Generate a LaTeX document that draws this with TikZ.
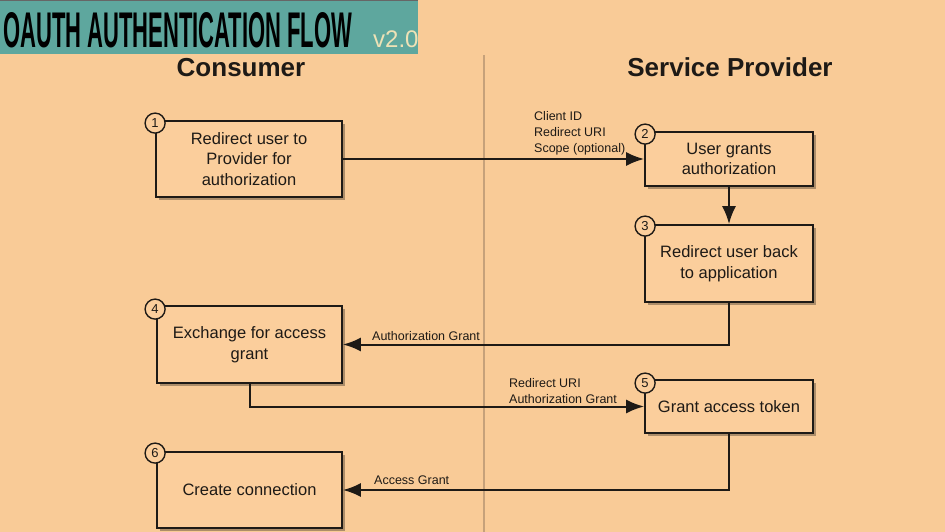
\documentclass[tikz,border=0pt]{standalone}
\usepackage{fontspec}
\setmainfont{Liberation Sans}
\usepackage{graphicx}
\usetikzlibrary{shadows,arrows.meta,calc}
\definecolor{bg}{HTML}{F9CB97}
\definecolor{boxfill}{HTML}{FBCE9C}
\definecolor{bannerteal}{HTML}{5EA79E}
\definecolor{divider}{HTML}{C6A17A}
\definecolor{verscol}{HTML}{EEE2B6}
\definecolor{ink}{HTML}{1E1A16}
\begin{document}
\begin{tikzpicture}[x=1pt,y=-1pt,
  stepbox/.style={draw=ink, line width=1.8pt, fill=boxfill, align=center, inner sep=2pt,
    font=\fontsize{16.5}{20.5}\selectfont, text=ink,
    drop shadow={shadow xshift=2.5pt, shadow yshift=-3pt, opacity=0.3, fill=black}},
  numcirc/.style={circle, draw=ink, line width=1.4pt, fill=boxfill, minimum size=20pt, inner sep=0pt,
    font=\fontsize{13}{13}\selectfont, text=ink},
  arr/.style={draw=ink, line width=2pt, -{Latex[length=18pt,width=14pt]}},
  lbl/.style={font=\fontsize{12.5}{16}\selectfont, text=ink, align=left, inner sep=0pt},
  header/.style={font=\fontsize{26}{30}\selectfont\bfseries, text=ink, inner sep=0pt}]
\useasboundingbox (0,0) rectangle (945,532);
\fill[bg] (0,0) rectangle (945,532);
% banner
\fill[bannerteal] (0,0) rectangle (418,54);
\draw[black!60, line width=1.5pt] (0,0.75) -- (418,0.75);
\node[anchor=north west, inner sep=0pt] (title) at (3,12)
  {\resizebox{349pt}{35pt}{\bfseries OAUTH AUTHENTICATION FLOW}};
\node[anchor=base west, inner sep=0pt, text=verscol, font=\fontsize{24}{24}\selectfont] (version) at (373,48) {v2.0};
% divider
\draw[divider, line width=2pt] (484,55) -- (484,532);
% headers
\node[header, anchor=base] (hcons) at (241,77) {Consumer};
\node[header, anchor=base] (hprov) at (730,77) {Service Provider};
% boxes
\node[stepbox, minimum width=186pt, minimum height=76pt] (b1) at (249,159) {Redirect user to\\Provider for\\authorization};
\node[stepbox, minimum width=168pt, minimum height=54pt] (b2) at (729,159) {User grants\\authorization};
\node[stepbox, minimum width=168pt, minimum height=77pt] (b3) at (729,263.5) {Redirect user back\\to application};
\node[stepbox, minimum width=185pt, minimum height=77pt] (b4) at (249.5,344.5) {Exchange for access\\grant};
\node[stepbox, minimum width=168pt, minimum height=53pt] (b5) at (729,406.5) {Grant access token};
\node[stepbox, minimum width=185pt, minimum height=76pt] (b6) at (249.5,490) {Create connection};
% number circles
\node[numcirc] (n1) at ($(b1.north west)+(0,3)$) {1};
\node[numcirc] (n2) at ($(b2.north west)+(1,3)$) {2};
\node[numcirc] (n3) at ($(b3.north west)+(1,2)$) {3};
\node[numcirc] (n4) at ($(b4.north west)+(-1,4)$) {4};
\node[numcirc] (n5) at ($(b5.north west)+(1,4)$) {5};
\node[numcirc] (n6) at ($(b6.north west)+(-1,2)$) {6};
% connectors
\draw[arr] (b1.east) -- (b1.east -| b2.west);
\draw[arr] (b2.south) -- (b3.north);
\draw[arr] (b3.south) |- (b4.east);
\draw[arr] (b4.south) |- (b5.west);
\draw[arr] (b5.south) |- (b6.east);
% labels
\node[lbl, anchor=base west] (l1) at (534,153) {Client ID\\Redirect URI\\Scope (optional)};
\node[lbl, anchor=base west] (l2) at (372,340) {Authorization Grant};
\node[lbl, anchor=base west] (l3) at (509,403) {Redirect URI\\Authorization Grant};
\node[lbl, anchor=base west] (l4) at (374,484) {Access Grant};
\end{tikzpicture}
\end{document}
